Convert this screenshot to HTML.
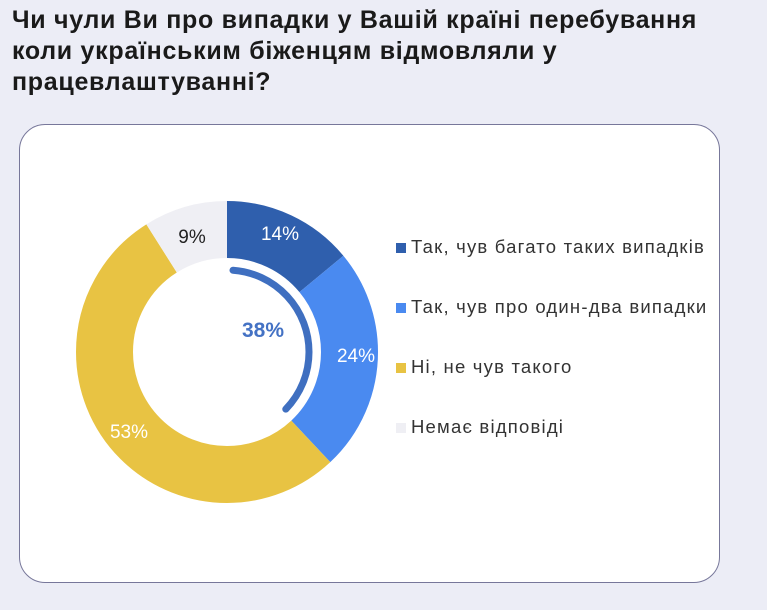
<!DOCTYPE html>
<html><head><meta charset="utf-8"><style>
body{margin:0;width:767px;height:610px;background:#ecedf6;font-family:"Liberation Sans","DejaVu Sans",sans-serif;overflow:hidden;position:relative}
h1{position:absolute;left:12px;top:5px;margin:0;font-size:25px;line-height:31px;font-weight:bold;color:#1a1a1a;letter-spacing:0.7px;white-space:nowrap}
.card{position:absolute;left:19px;top:124px;width:701px;height:459px;background:#fff;border:1.5px solid #77779a;border-radius:26px;box-sizing:border-box}
.lg{position:absolute;left:396px;font-size:18.5px;color:#333;letter-spacing:1.2px;white-space:nowrap}
.lg span{display:inline-block;width:10px;height:10px;margin-right:5px;vertical-align:0px}
</style></head><body>
<h1>Чи чули Ви про випадки у Вашій країні перебування<br>коли українським біженцям відмовляли у<br>працевлаштуванні?</h1>
<div class="card"></div>
<svg width="767" height="610" style="position:absolute;left:0;top:0">
<g transform="rotate(-90 227 352)" fill="none" stroke-width="57">
<circle cx="227" cy="352" r="122.5" stroke="#2f5fad" stroke-dasharray="107.76 800" stroke-dashoffset="0"/>
<circle cx="227" cy="352" r="122.5" stroke="#4a8af0" stroke-dasharray="184.7 800" stroke-dashoffset="-107.76"/>
<circle cx="227" cy="352" r="122.5" stroke="#e8c343" stroke-dasharray="407.9 800" stroke-dashoffset="-292.46"/>
<circle cx="227" cy="352" r="122.5" stroke="#efeff4" stroke-dasharray="69.3 800" stroke-dashoffset="-700.4"/>
<circle cx="227" cy="352" r="82" stroke="#3f6fc0" stroke-width="7" stroke-linecap="round" stroke-dasharray="186 600" stroke-dashoffset="-6"/>
</g>
<g font-size="19" text-anchor="middle">
<text x="280" y="240" fill="#fff">14%</text>
<text x="356" y="362" fill="#fff">24%</text>
<text x="129" y="438" fill="#fff">53%</text>
<text x="192" y="243" fill="#222">9%</text>
</g>
<text x="263" y="337" font-size="21" font-weight="bold" fill="#4472c4" text-anchor="middle">38%</text>
</svg>
<div class="lg" style="top:236px"><span style="background:#2f5fad"></span>Так, чув багато таких випадків</div>
<div class="lg" style="top:296px"><span style="background:#4a8af0"></span>Так, чув про один-два випадки</div>
<div class="lg" style="top:356px"><span style="background:#e8c343"></span>Ні, не чув такого</div>
<div class="lg" style="top:416px"><span style="background:#efeff4"></span>Немає відповіді</div>
</body></html>
